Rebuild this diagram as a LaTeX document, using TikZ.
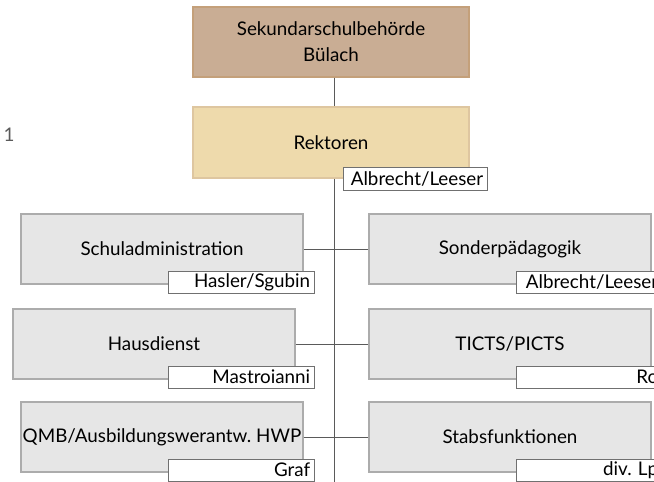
\documentclass[tikz,border=0pt]{standalone}
\usepackage{fontspec}
\setmainfont{Lato}
\frenchspacing
\definecolor{boardfill}{RGB}{201,173,148}
\definecolor{boardline}{RGB}{196,160,122}
\definecolor{rektfill}{RGB}{238,218,172}
\definecolor{rektline}{RGB}{222,198,160}
\definecolor{unitfill}{RGB}{230,230,230}
\definecolor{unitline}{RGB}{172,172,172}
\definecolor{tagline}{RGB}{112,112,112}
\definecolor{wire}{RGB}{90,90,90}
\begin{document}
\begin{tikzpicture}[x=1pt, y=-1pt]
    % Define styles
    \tikzset{
        unit/.style={
            draw=unitline,
            fill=unitfill,
            line width=1.2pt,
            minimum width=282pt,
            minimum height=70pt,
            inner sep=0pt,
            font=\fontsize{18.8}{26}\selectfont
        },
        tag/.style={
            draw=tagline,
            fill=white,
            line width=0.8pt,
            text width=138pt,
            align=right,
            inner xsep=4pt,
            inner ysep=0pt,
            minimum height=22pt,
            anchor=north east,
            font=\fontsize{18.8}{22}\selectfont
        },
        link/.style={
            wire,
            line width=0.9pt
        }
    }
    \useasboundingbox (0,0) rectangle (654,482);
    \clip (0,0) rectangle (654,482);

    % Top levels
    \node[unit, fill=boardfill, draw=boardline, minimum width=276pt, align=center] (board) at (331,42) {Sekundarschulbehörde\\Bülach};
    \node[unit, fill=rektfill, draw=rektline, minimum width=276pt, minimum height=71pt] (rekt) at (331,142.5) {Rektoren};
    \coordinate (trunk) at (334,482);

    % Units, left
    \node[unit] (admin) at (162,249) {Schuladministration};
    \node[unit] (haus) at (154,344) {Hausdienst};
    \node[unit] (qmb) at (162,437) {QMB/Ausbildungswerantw. HWP};

    % Units, right
    \node[unit] (sonder) at (510,249) {Sonderpädagogik};
    \node[unit] (ticts) at (510,344) {TICTS/PICTS};
    \node[unit] (stab) at (510,437) {Stabsfunktionen};

    % Connectors
    \draw[link] (board.south -| trunk) -- (rekt.north -| trunk);
    \draw[link] (rekt.south -| trunk) -- (trunk);
    \foreach \u in {admin, haus, qmb}
        \draw[link] (\u.east) -- (\u.east -| trunk);
    \foreach \u in {sonder, ticts, stab}
        \draw[link] (\u.west) -- (\u.west -| trunk);

    % Names
    \node[tag, text width=136pt, minimum height=23pt] (rektname) at ([shift={(18,-12)}]rekt.south east) {Albrecht/Leeser};
    \node[tag] (adminname) at ([shift={(11,-14)}]admin.south east) {Hasler/Sgubin};
    \node[tag] (hausname) at ([shift={(19,-14)}]haus.south east) {Mastroianni};
    \node[tag] (qmbname) at ([shift={(11,-14)}]qmb.south east) {Graf};
    \node[tag] (sondername) at ([shift={(11,-14)}]sonder.south east) {Albrecht/Leeser};
    \node[tag] (tictsname) at ([shift={(11,-14)}]ticts.south east) {Ro};
    \node[tag] (stabname) at ([shift={(11,-14)}]stab.south east) {div. Lp};

    % Stray mark
    \node[font=\fontsize{18.8}{22}\selectfont, text=wire, inner sep=0pt] (mark) at (9,135) {1};
\end{tikzpicture}
\end{document}
